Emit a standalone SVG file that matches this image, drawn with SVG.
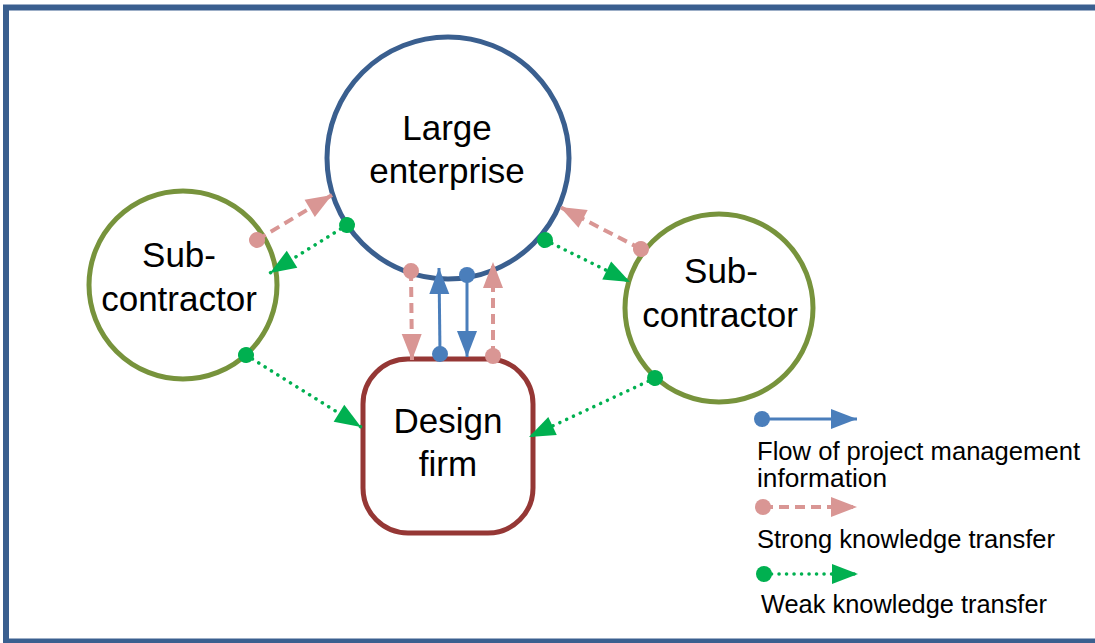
<svg xmlns="http://www.w3.org/2000/svg" width="1095" height="643" viewBox="0 0 1095 643">
  <style>
    .lbl { font-family: "Liberation Sans", Arial, sans-serif; font-size: 35px; fill: #000; text-anchor: middle; }
    .leg { font-family: "Liberation Sans", Arial, sans-serif; font-size: 25px; fill: #000; }
    .pm { stroke: #4a7ebb; stroke-width: 3; fill: none; marker-start: url(#dotBlue); marker-end: url(#arrBlue); }
    .strong { stroke: #d99694; stroke-width: 4; fill: none; stroke-dasharray: 10 6; marker-start: url(#dotPink); marker-end: url(#arrPink); }
    .weak { stroke: #00b050; stroke-width: 3.5; fill: none; stroke-dasharray: 0.1 7.4; stroke-linecap: round; marker-start: url(#dotGreen); marker-end: url(#arrGreen); }
  </style>
  <defs>
    <marker id="arrBlue" markerUnits="userSpaceOnUse" markerWidth="28" markerHeight="22" refX="27" refY="10.5" orient="auto">
      <path d="M1,0.5 L27,10.5 L1,20.5 z" fill="#4a7ebb"/>
    </marker>
    <marker id="arrPink" markerUnits="userSpaceOnUse" markerWidth="28" markerHeight="22" refX="27" refY="10.5" orient="auto">
      <path d="M1,0.5 L27,10.5 L1,20.5 z" fill="#d99694"/>
    </marker>
    <marker id="arrGreen" markerUnits="userSpaceOnUse" markerWidth="28" markerHeight="22" refX="27" refY="10.5" orient="auto">
      <path d="M1,0.5 L27,10.5 L1,20.5 z" fill="#00b050"/>
    </marker>
    <marker id="dotBlue" markerUnits="userSpaceOnUse" markerWidth="18" markerHeight="18" refX="9" refY="9" orient="auto">
      <circle cx="9" cy="9" r="8" fill="#4a7ebb"/>
    </marker>
    <marker id="dotPink" markerUnits="userSpaceOnUse" markerWidth="18" markerHeight="18" refX="9" refY="9" orient="auto">
      <circle cx="9" cy="9" r="8" fill="#d99694"/>
    </marker>
    <marker id="dotGreen" markerUnits="userSpaceOnUse" markerWidth="18" markerHeight="18" refX="9" refY="9" orient="auto">
      <circle cx="9" cy="9" r="8" fill="#00b050"/>
    </marker>
  </defs>

  <rect width="1095" height="643" fill="#fff"/>
  <!-- outer frame -->
  <rect x="6" y="7.5" width="1100" height="634" fill="none" stroke="#3a5f8f" stroke-width="6"/>

  <g id="large-enterprise">
    <circle cx="448" cy="158" r="121" fill="#fff" stroke="#3a5f8f" stroke-width="5"/>
    <text class="lbl" x="447" y="140">Large</text>
    <text class="lbl" x="447" y="183">enterprise</text>
  </g>

  <g id="subcontractor-left">
    <circle cx="183" cy="285" r="94" fill="#fff" stroke="#77933c" stroke-width="5"/>
    <text class="lbl" x="179" y="267">Sub-</text>
    <text class="lbl" x="179" y="311">contractor</text>
  </g>

  <g id="subcontractor-right">
    <circle cx="719" cy="308" r="94" fill="#fff" stroke="#77933c" stroke-width="5"/>
    <text class="lbl" x="721" y="283">Sub-</text>
    <text class="lbl" x="720" y="327">contractor</text>
  </g>

  <g id="design-firm">
    <rect x="363" y="359" width="170" height="174" rx="45" fill="#fff" stroke="#953735" stroke-width="5"/>
    <text class="lbl" x="448" y="433">Design</text>
    <text class="lbl" x="448" y="476">firm</text>
  </g>

  <g id="connectors">
    <!-- left subcontractor <-> large enterprise -->
    <line class="strong" x1="257" y1="240" x2="332" y2="195"/>
    <line class="weak" x1="347" y1="225" x2="270" y2="273"/>
    <!-- large enterprise <-> design firm -->
    <line class="strong" x1="411" y1="271" x2="412" y2="360"/>
    <line class="pm" x1="440" y1="354" x2="439" y2="268"/>
    <line class="pm" x1="467" y1="275" x2="467" y2="357"/>
    <line class="strong" x1="493" y1="356" x2="493" y2="262"/>
    <!-- right subcontractor <-> large enterprise -->
    <line class="strong" x1="641" y1="249" x2="560" y2="207"/>
    <line class="weak" x1="545" y1="240" x2="630" y2="282"/>
    <!-- subcontractors -> design firm -->
    <line class="weak" x1="246" y1="355" x2="361" y2="427"/>
    <line class="weak" x1="655" y1="378" x2="529" y2="437"/>
  </g>

  <g id="legend">
    <line class="pm" x1="762" y1="419" x2="857" y2="419"/>
    <text class="leg" x="757" y="460" textLength="323" lengthAdjust="spacingAndGlyphs">Flow of project management</text>
    <text class="leg" x="757" y="487" textLength="130" lengthAdjust="spacingAndGlyphs">information</text>
    <line class="strong" x1="763" y1="507" x2="857" y2="507"/>
    <text class="leg" x="757" y="548" textLength="298" lengthAdjust="spacingAndGlyphs">Strong knowledge transfer</text>
    <line class="weak" x1="764" y1="574" x2="858" y2="574"/>
    <text class="leg" x="761" y="613" textLength="286" lengthAdjust="spacingAndGlyphs">Weak knowledge transfer</text>
  </g>
</svg>
